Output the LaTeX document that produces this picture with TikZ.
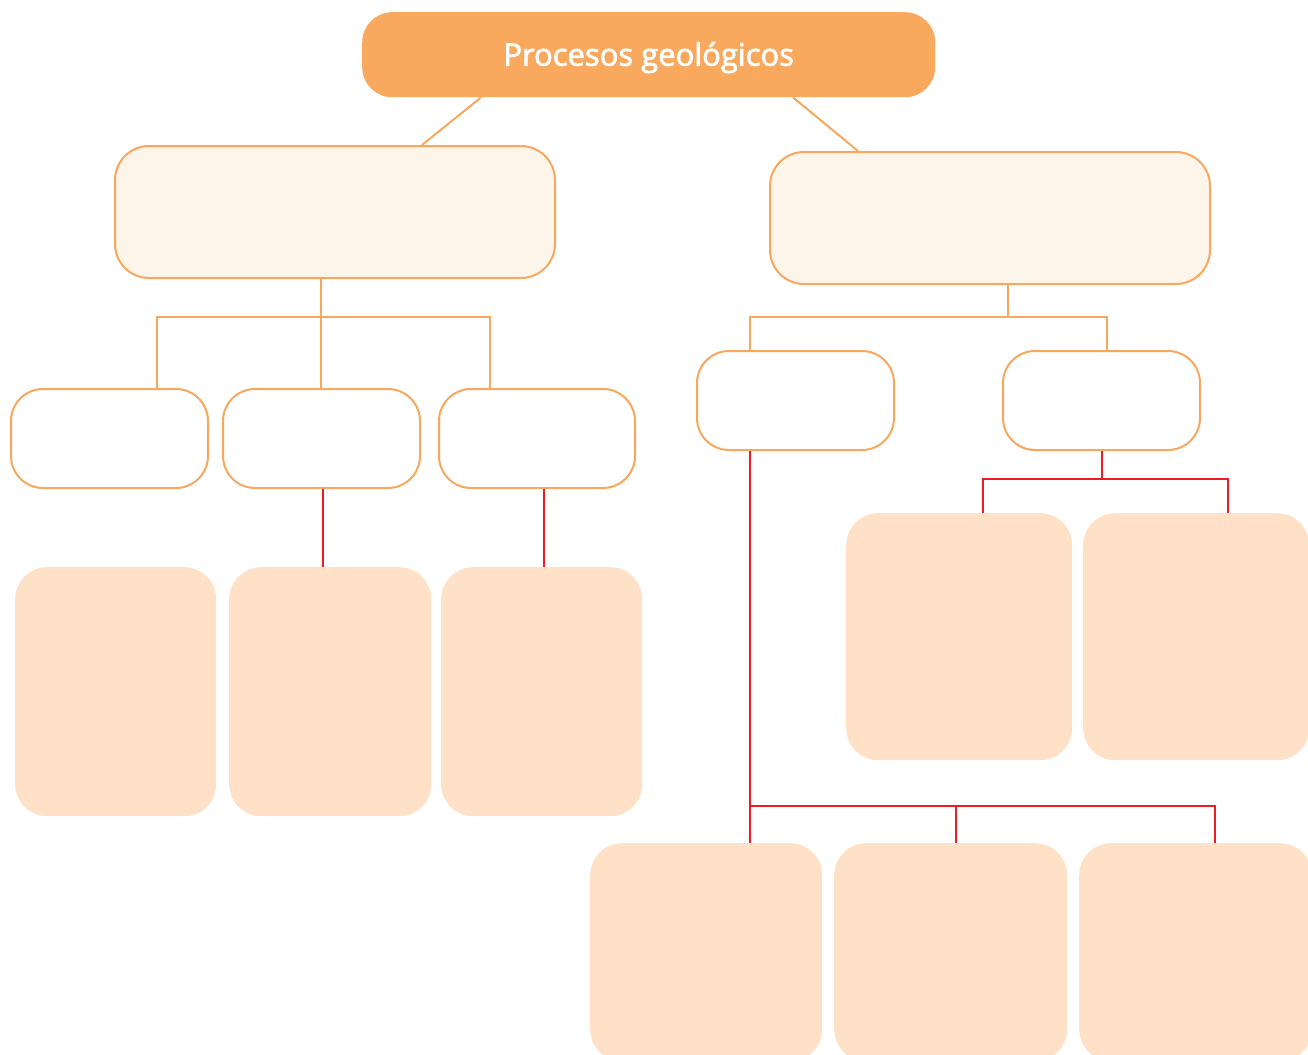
\documentclass[tikz,border=0pt]{standalone}
\usepackage{fontspec}
\setmainfont{Open Sans}
\newfontfamily\ttlfont[BoldFont={Open Sans}, BoldFeatures={FakeBold=2.2}]{Open Sans}
\definecolor{orng}{HTML}{F9A95E}
\definecolor{orline}{HTML}{F8A75C}
\definecolor{cream}{HTML}{FEF5EA}
\definecolor{peach}{HTML}{FEE1C7}
\definecolor{redl}{HTML}{ED1C24}
\begin{document}
\begin{tikzpicture}[x=1pt,y=-1pt,
  base/.style={rectangle, inner sep=0pt, anchor=north west},
  titlebox/.style={base, fill=orng, rounded corners=30pt, text=white, font=\ttlfont\bfseries\fontsize{31}{35}\selectfont, text height=22pt, text depth=0pt},
  lvtwo/.style={base, fill=cream, draw=orline, line width=2pt, rounded corners=34pt},
  lvthree/.style={base, fill=white, draw=orline, line width=2pt, rounded corners=32pt},
  leaf/.style={base, fill=peach, rounded corners=32pt},
  oline/.style={draw=orline, line width=2pt},
  rline/.style={draw=redl, line width=2.5pt}]
\useasboundingbox (0,0) rectangle (1308,1054);
\clip (0,0) rectangle (1308,1054);
% title
\node[titlebox, minimum width=573pt, minimum height=85pt] (t) at (362,12) {Procesos geológicos};
% level 2
\node[lvtwo, minimum width=440pt, minimum height=132pt] (l2a) at (114,145) {};
\node[lvtwo, minimum width=440pt, minimum height=132pt] (l2b) at (769,151) {};
% level 3 left
\node[lvthree, minimum width=197pt, minimum height=99pt] (l3a) at (10,388) {};
\node[lvthree, minimum width=197pt, minimum height=99pt] (l3b) at (222,388) {};
\node[lvthree, minimum width=196pt, minimum height=99pt] (l3c) at (438,388) {};
% level 3 right
\node[lvthree, minimum width=197pt, minimum height=99pt] (l3d) at (696,350) {};
\node[lvthree, minimum width=197pt, minimum height=99pt] (l3e) at (1002,350) {};
% leaves left
\node[leaf, minimum width=201pt, minimum height=249pt] (pa) at (15,567) {};
\node[leaf, minimum width=202pt, minimum height=249pt] (pb) at (229,567) {};
\node[leaf, minimum width=201pt, minimum height=249pt] (pc) at (441,567) {};
% leaves right
\node[leaf, minimum width=226pt, minimum height=247pt] (pd) at (846,513) {};
\node[leaf, minimum width=226pt, minimum height=247pt] (pe) at (1083,513) {};
% bottom leaves
\node[leaf, minimum width=232pt, minimum height=218pt] (pf) at (590,843) {};
\node[leaf, minimum width=233pt, minimum height=218pt] (pg) at (834,843) {};
\node[leaf, minimum width=233pt, minimum height=218pt] (ph) at (1079,843) {};
% junction coordinates
\coordinate (jl) at (321,317);
\coordinate (jr) at (1008,317);
\coordinate (jre) at (1102,479);
\coordinate (jb) at (750,806);
% title connectors
\draw[oline] ([xshift=119pt]t.south west) -- ([xshift=308pt]l2a.north west);
\draw[oline] ([xshift=431pt]t.south west) -- ([xshift=89pt]l2b.north west);
% left tree
\draw[oline] ([xshift=207pt]l2a.south west) -- ([xshift=99pt]l3b.north west);
\draw[oline] ([xshift=147pt]l3a.north west) |- (jl) -| ([xshift=52pt]l3c.north west);
% right tree
\draw[oline] ([xshift=239pt]l2b.south west) -- (jr);
\draw[oline] ([xshift=54pt]l3d.north west) |- (jr) -| ([xshift=105pt]l3e.north west);
% red connectors left
\draw[rline] ([xshift=101pt]l3b.south west) -- ([xshift=94pt]pb.north west);
\draw[rline] ([xshift=106pt]l3c.south west) -- ([xshift=103pt]pc.north west);
% red connectors right
\draw[rline] ([xshift=100pt]l3e.south west) -- (jre);
\draw[rline] ([xshift=137pt]pd.north west) |- (jre) -| ([xshift=145pt]pe.north west);
% red bottom
\draw[rline] ([xshift=54pt]l3d.south west) -- ([xshift=160pt]pf.north west);
\draw[rline] (jb) -| ([xshift=122pt]pg.north west);
\draw[rline] (jb) -| ([xshift=136pt]ph.north west);
\end{tikzpicture}
\end{document}
